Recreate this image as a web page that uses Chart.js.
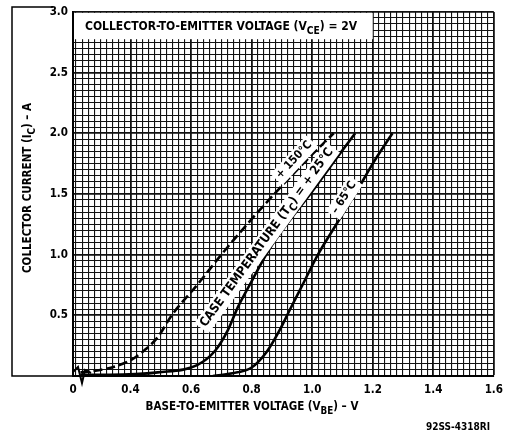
<!DOCTYPE html>
<html>
<head>
<meta charset="utf-8">
<script src="https://cdn.jsdelivr.net/npm/chart.js@4/dist/chart.umd.min.js"></script>
<style>html,body{margin:0;background:#fff}canvas{display:block}</style>
</head>
<body>
<canvas id="c" width="510" height="435"></canvas>
<script>
// Axis range (x axis is broken: the left edge is labelled "0")
const xMin = 0.21, xMax = 1.6, yMin = 0, yMax = 3.0;
const xTickValues = [0.4, 0.6, 0.8, 1.0, 1.2, 1.4, 1.6];
const xTickLabels = ['0.4', '0.6', '0.8', '1.0', '1.2', '1.4', '1.6'];
const yTickValues = [0.5, 1.0, 1.5, 2.0, 2.5, 3.0];
const yTickLabels = ['0.5', '1.0', '1.5', '2.0', '2.5', '3.0'];

// Tc = +150 C (dashed)
const vbe150 = [0.235, 0.30, 0.35, 0.40, 0.445, 0.49, 0.536, 0.62, 0.70, 0.785, 0.875, 0.97, 1.071];
const ic150  = [0.03, 0.05, 0.08, 0.13, 0.21, 0.32, 0.50, 0.75, 1.0, 1.25, 1.5, 1.75, 2.0];
// Tc = +25 C
const vbe25 = [0.235, 0.33, 0.49, 0.62, 0.68, 0.722, 0.755, 0.80, 0.855, 0.925, 1.0, 1.07, 1.142];
const ic25  = [0.01, 0.01, 0.03, 0.09, 0.21, 0.38, 0.57, 0.78, 1.03, 1.28, 1.52, 1.76, 2.0];
// Tc = -65 C
const vbe65 = [0.672, 0.753, 0.80, 0.85, 0.893, 0.925, 0.97, 1.019, 1.08, 1.142, 1.20, 1.265];
const ic65  = [0.0, 0.03, 0.07, 0.2, 0.38, 0.54, 0.76, 1.0, 1.25, 1.5, 1.75, 2.0];

const FONT = '"DejaVu Sans Condensed", "DejaVu Sans", sans-serif';

const pts = (xs, ys) => xs.map((x, i) => ({ x, y: ys[i] }));
const near = (a, b) => Math.abs(a - b) < 1e-6;

function drawRich(ctx, parts, x, y, size, align) {
  const f = s => `bold ${s}px ${FONT}`;
  let w = 0;
  parts.forEach(([t, sub]) => { ctx.font = f(sub ? size * 0.85 : size); w += ctx.measureText(t).width; });
  let cx = align === 'center' ? x - w / 2 : (align === 'right' ? x - w : x);
  ctx.textBaseline = 'middle';
  ctx.textAlign = 'left';
  parts.forEach(([t, sub]) => {
    ctx.font = f(sub ? size * 0.85 : size);
    ctx.fillText(t, cx, sub ? y + size * 0.35 : y);
    cx += ctx.measureText(t).width;
  });
  return w;
}

function curveLabel(chart, parts, xv, yv, deg, size) {
  const { ctx, scales } = chart;
  const px = scales.x.getPixelForValue(xv), py = scales.y.getPixelForValue(yv);
  ctx.save();
  ctx.translate(px, py);
  ctx.rotate(-deg * Math.PI / 180);
  let w = 0;
  parts.forEach(([t, sub]) => { ctx.font = `bold ${sub ? size * 0.85 : size}px ${FONT}`; w += ctx.measureText(t).width; });
  ctx.fillStyle = '#fff';
  ctx.fillRect(-w / 2 - 3, -size / 2 - 2, w + 6, size + 5);
  ctx.fillStyle = '#000';
  drawRich(ctx, parts, 0, 0, size, 'center');
  ctx.restore();
}

const decor = {
  id: 'decor',
  beforeDatasetsDraw(chart) {
    const { ctx, scales } = chart;
    const a = chart.chartArea;
    // white header box over the grid
    const bx = scales.x.getPixelForValue(1.2), by = scales.y.getPixelForValue(2.775);
    ctx.save();
    ctx.fillStyle = '#fff';
    ctx.fillRect(a.left + 1, a.top + 1, bx - a.left - 1, by - a.top - 1);
    ctx.fillStyle = '#000';
    drawRich(ctx, [['COLLECTOR-TO-EMITTER VOLTAGE (V'], ['CE', true], [') = 2V']], a.left + 12, a.top + 15, 12, 'left');
    ctx.restore();
  },
  afterDatasetsDraw(chart) {
    const { ctx } = chart;
    const a = chart.chartArea;
    curveLabel(chart, [['+ 150°C']], 0.94, 1.78, 47, 11.5);
    curveLabel(chart, [['CASE TEMPERATURE (T'], ['C', true], [') = + 25°C']], 0.85, 1.14, 54, 12.5);
    curveLabel(chart, [['– 65°C']], 1.105, 1.47, 57, 11.5);

    ctx.save();
    ctx.strokeStyle = '#000';
    // outer frame remains at left
    ctx.lineWidth = 1.5;
    ctx.beginPath();
    ctx.moveTo(53, 7); ctx.lineTo(12, 7); ctx.lineTo(12, a.bottom); ctx.lineTo(a.left, a.bottom);
    ctx.stroke();
    // axis break mark
    ctx.lineWidth = 2;
    ctx.beginPath();
    ctx.moveTo(a.left, a.bottom - 4);
    ctx.lineTo(a.left + 5, a.bottom - 9);
    ctx.lineTo(a.left + 9, a.bottom + 7);
    ctx.lineTo(a.left + 12, a.bottom - 6);
    ctx.lineTo(a.left + 18, a.bottom - 3);
    ctx.stroke();

    // axis titles
    ctx.fillStyle = '#000';
    ctx.save();
    ctx.translate(28, (a.top + a.bottom) / 2 - 6);
    ctx.rotate(-Math.PI / 2);
    drawRich(ctx, [['COLLECTOR CURRENT (I'], ['C', true], [') – A']], 0, 0, 11.5, 'center');
    ctx.restore();
    drawRich(ctx, [['BASE-TO-EMITTER VOLTAGE (V'], ['BE', true], [') – V']], 252, 407, 11.5, 'center');
    drawRich(ctx, [['92SS-4318RI']], 490, 427, 10, 'right');
    ctx.restore();
  }
};

const xGrid = [xMin];
for (let i = 11; i <= 80; i++) xGrid.push(i / 50);
const yGrid = [];
for (let i = 0; i <= 60; i++) yGrid.push(i / 20);

const lineStyle = { borderColor: '#000', borderWidth: 2.6, pointRadius: 0, fill: false, cubicInterpolationMode: 'monotone' };

new Chart(document.getElementById('c'), {
  type: 'line',
  data: {
    datasets: [
      { ...lineStyle, data: pts(vbe150, ic150), borderDash: [9, 4] },
      { ...lineStyle, data: pts(vbe25, ic25) },
      { ...lineStyle, data: pts(vbe65, ic65) }
    ]
  },
  options: {
    responsive: false,
    animation: false,
    layout: { padding: { top: 9, right: 10, left: 0, bottom: 0 } },
    plugins: { legend: { display: false }, tooltip: { enabled: false } },
    scales: {
      x: {
        type: 'linear', min: xMin, max: xMax,
        afterBuildTicks: s => { s.ticks = xGrid.map(v => ({ value: v })); },
        afterFit: s => { s.height = 59; },
        grid: {
          color: '#111',
          lineWidth: c => xTickValues.some(v => near(v, c.tick.value)) ? 1.8 : 1.1,
          drawTicks: false
        },
        border: { color: '#000', width: 2 },
        ticks: {
          autoSkip: false, maxRotation: 0, padding: 7, color: '#000',
          font: { family: FONT, weight: 'bold', size: 11.5 },
          callback: v => {
            if (near(v, xMin)) return '0';
            const i = xTickValues.findIndex(t => near(t, v));
            return i >= 0 ? xTickLabels[i] : '';
          }
        }
      },
      y: {
        type: 'linear', min: yMin, max: yMax,
        afterBuildTicks: s => { s.ticks = yGrid.map(v => ({ value: v })); },
        afterFit: s => { s.width = 73; },
        grid: {
          color: '#111',
          lineWidth: c => yTickValues.some(v => near(v, c.tick.value)) ? 1.8 : 1.1,
          drawTicks: false
        },
        border: { color: '#000', width: 2 },
        ticks: {
          autoSkip: false, padding: 5, color: '#000',
          font: { family: FONT, weight: 'bold', size: 11.5 },
          callback: v => {
            const i = yTickValues.findIndex(t => near(t, v));
            return i >= 0 ? yTickLabels[i] : '';
          }
        }
      }
    }
  },
  plugins: [decor]
});
</script>
</body>
</html>
